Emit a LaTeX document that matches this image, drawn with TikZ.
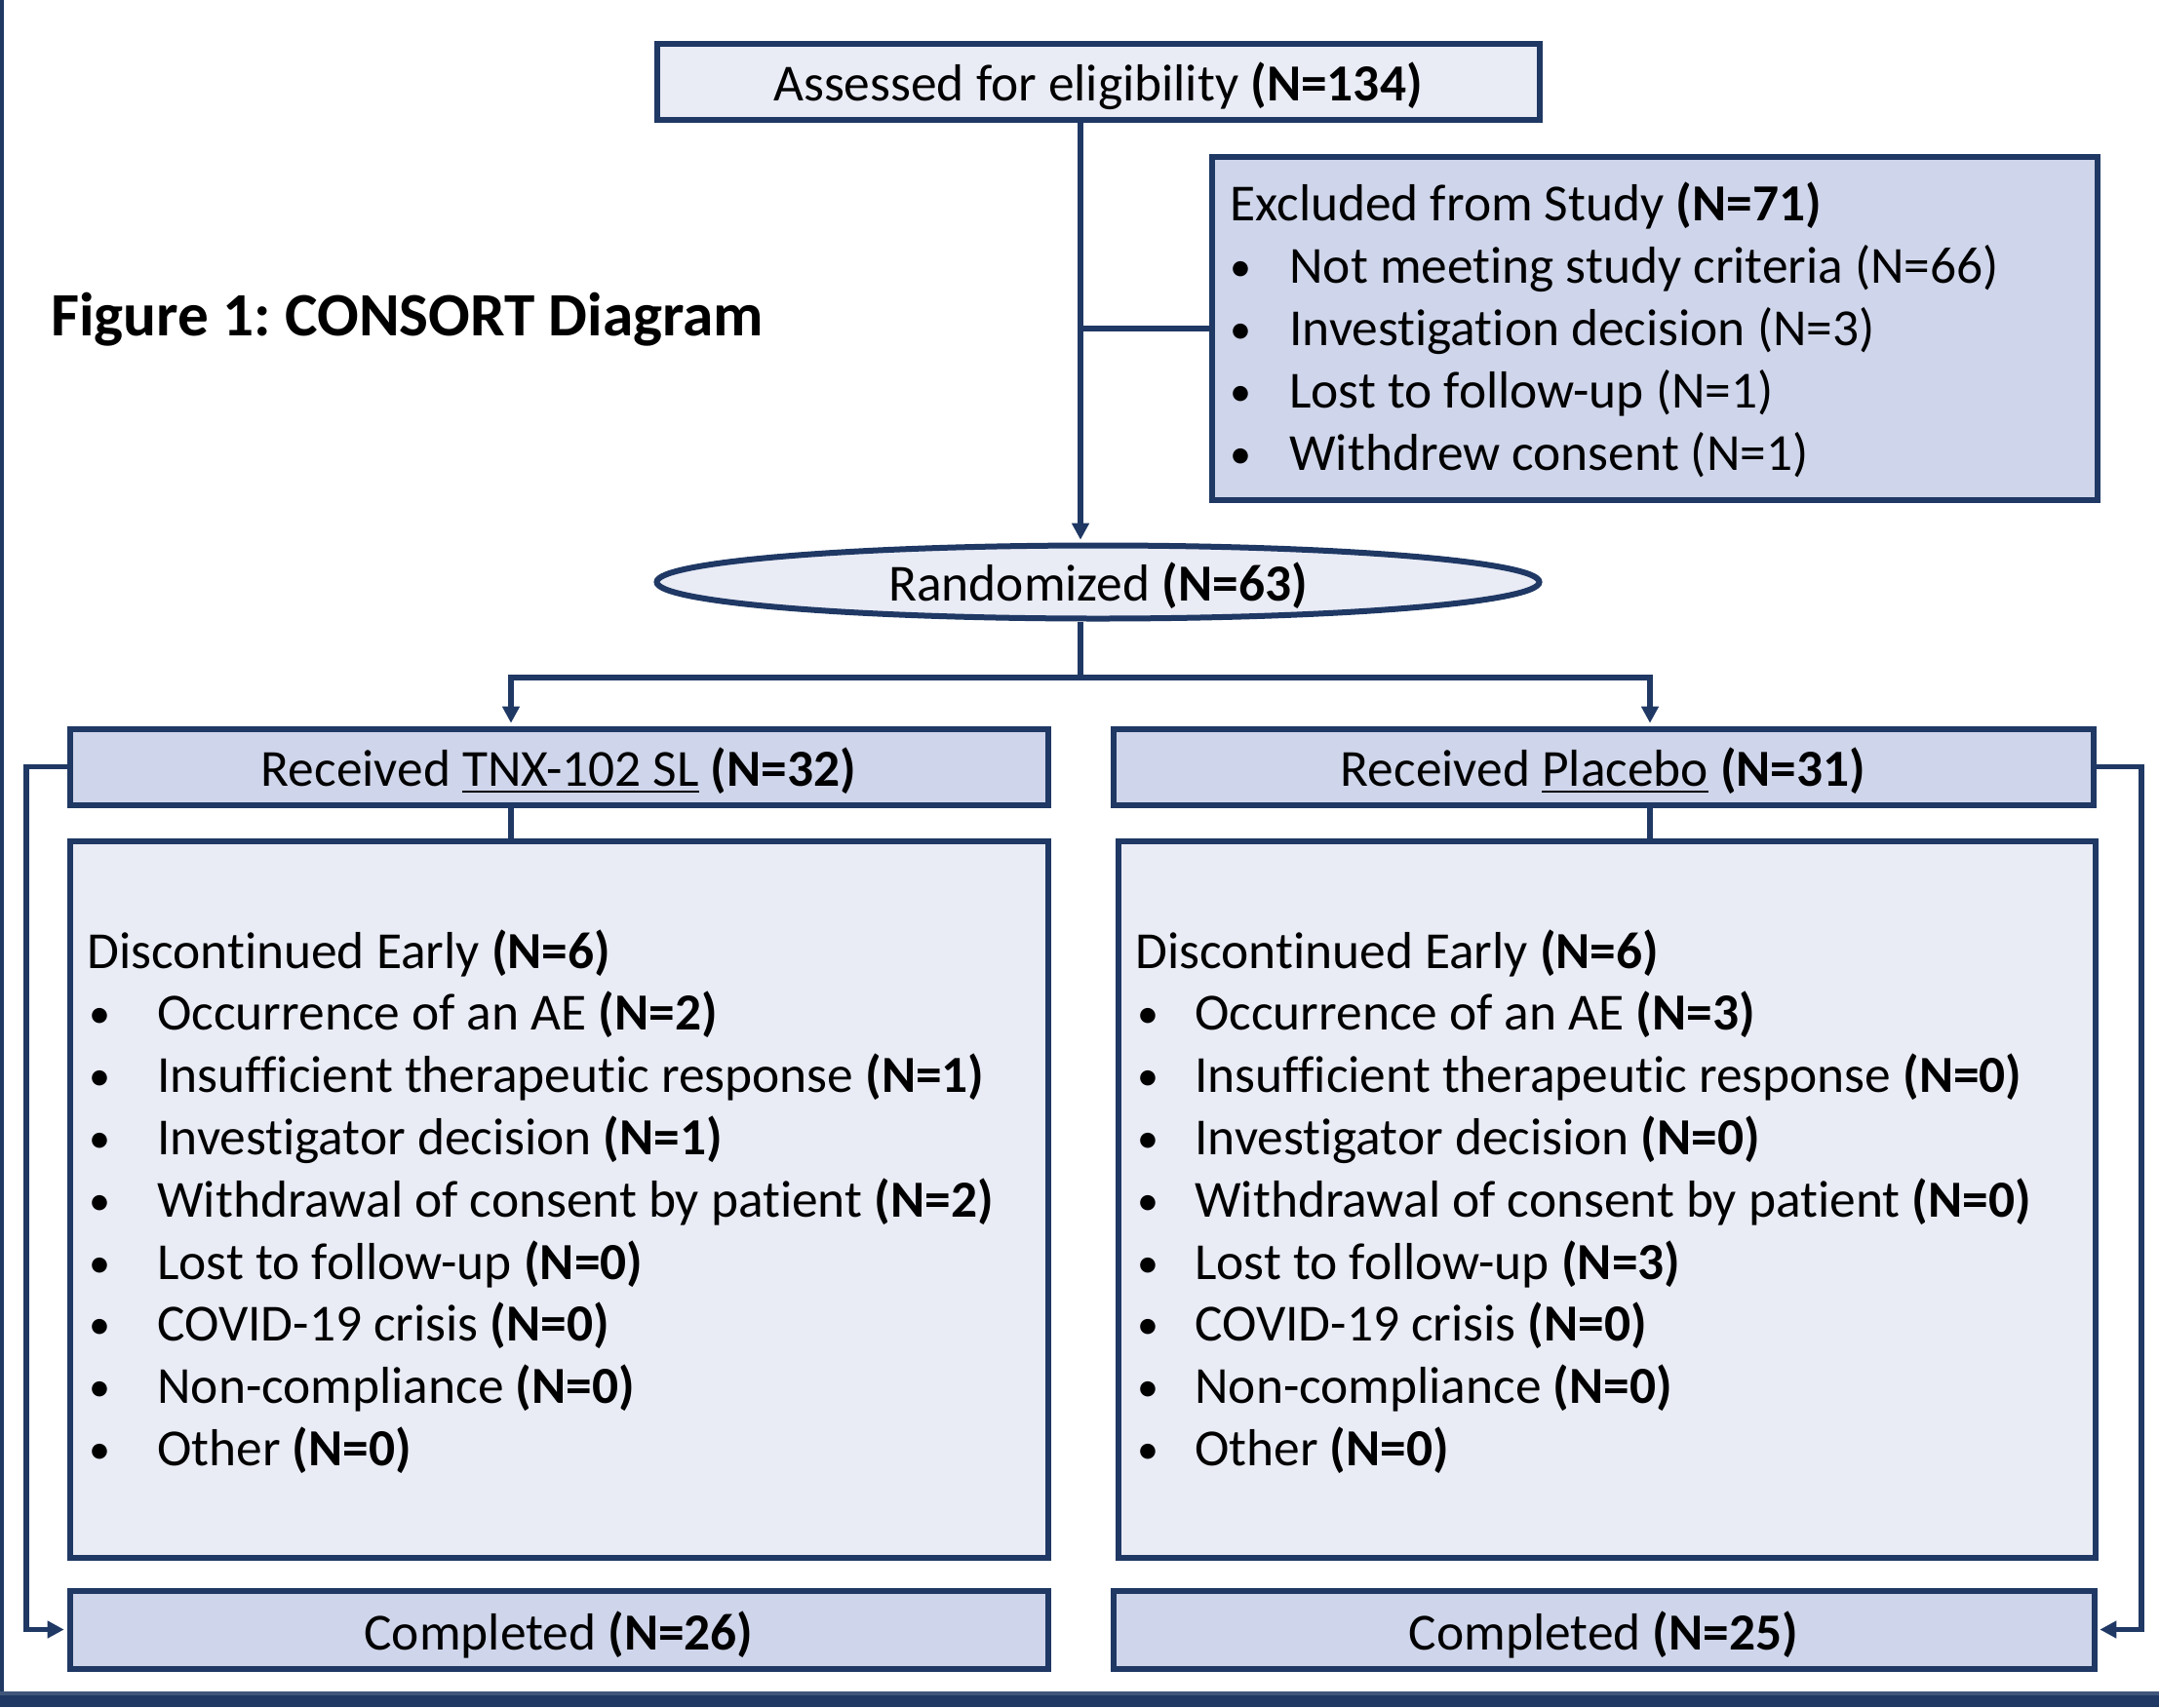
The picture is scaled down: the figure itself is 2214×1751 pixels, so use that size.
\documentclass[tikz,border=0pt]{standalone}
\usepackage{fontspec}
\setmainfont{Carlito}[Ligatures=NoCommon]
\usetikzlibrary{shapes.geometric,arrows.meta}
\definecolor{navy}{HTML}{1F3864}
\definecolor{fillA}{HTML}{E9EBF5}
\definecolor{fillB}{HTML}{CFD5EA}
\frenchspacing
\newcommand\uln[1]{\setbox0\hbox{#1}\rlap{\rule[-3.6pt]{\wd0}{1.2pt}}\box0\relax}
\newcommand\bul{{\fontsize{22pt}{22pt}\selectfont\raisebox{1pt}{•}}}
\begin{document}
\begin{tikzpicture}[x=0.5pt,y=-0.5pt,
  every node/.style={font=\fontsize{26.7pt}{31.9pt}\selectfont, inner sep=0pt},
  box/.style={draw=navy, line width=3pt, rectangle, text height=19.5pt, text depth=0pt},
  conn/.style={draw=navy, line width=2.6pt},
  arr/.style={conn, -{Triangle[width=8.5pt,length=8.5pt]}, shorten >=1.4pt},
  ln/.style={anchor=base west}]
\useasboundingbox (0,0) rectangle (2214,1751);
% frame remnants
\fill[navy] (0,0) rectangle (4,1751);
\fill[navy!85] (0,1735) rectangle (2214,1739);
\fill[navy] (0,1739) rectangle (2214,1751);

% title
\node[ln, font=\fontsize{31.6pt}{37pt}\selectfont\bfseries] (T) at (52,344) {Figure 1: CONSORT Diagram};

% boxes
\node[box, fill=fillA, minimum width=452.5pt, minimum height=39pt] (A) at (1126,83.5) {Assessed for eligibility \textbf{(N=134)}};
\node[box, fill=fillB, minimum width=454pt, minimum height=176pt] (E) at (1696.5,337) {};
\node[box, ellipse, fill=fillA, minimum width=452.5pt, minimum height=37.5pt] (R) at (1126,597) {Randomized \textbf{(N=63)}};
\node[box, fill=fillB, minimum width=501.5pt, minimum height=39pt] (TL) at (573,786.5) {Received \uln{TNX-102 SL} \textbf{(N=32)}};
\node[box, fill=fillB, minimum width=502.5pt, minimum height=39pt] (TR) at (1644,786.5) {Received \uln{Placebo} \textbf{(N=31)}};
\node[box, fill=fillA, minimum width=501.5pt, minimum height=367.5pt] (DL) at (573,1230) {};
\node[box, fill=fillA, minimum width=501pt, minimum height=367.5pt] (DR) at (1647.5,1230) {};
\node[box, fill=fillB, minimum width=501.5pt, minimum height=40pt, text height=21pt] (CL) at (573,1671.5) {Completed \textbf{(N=26)}};
\node[box, fill=fillB, minimum width=503pt, minimum height=40pt, text height=21pt] (CR) at (1644.5,1671.5) {Completed \textbf{(N=25)}};

% excluded list
\node[ln] (Et) at (1261,226) {Excluded from Study \textbf{(N=71)}};
\foreach \t [count=\i] in {{Not meeting study criteria (N=66)},{Investigation decision (N=3)},{Lost to follow-up (N=1)},{Withdrew consent (N=1)}} {
  \node[ln] (Eb\i) at (1261,{226+64*\i}) {\bul};
  \node[ln] (Ei\i) at (1322,{226+64*\i}) {\t};
}

% discontinued lists
\node[ln] (DLt) at (89,993) {Discontinued Early \textbf{(N=6)}};
\foreach \t [count=\i] in {{Occurrence of an AE \textbf{(N=2)}},{Insufficient therapeutic response \textbf{(N=1)}},{Investigator decision \textbf{(N=1)}},{Withdrawal of consent by patient \textbf{(N=2)}},{Lost to follow-up \textbf{(N=0)}},{COVID-19 crisis \textbf{(N=0)}},{Non-compliance \textbf{(N=0)}},{Other \textbf{(N=0)}}} {
  \node[ln] (DLb\i) at (91,{993+63.8*\i}) {\bul};
  \node[ln] (DLi\i) at (161,{993+63.8*\i}) {\t};
}
\node[ln] (DRt) at (1164,993) {Discontinued Early \textbf{(N=6)}};
\foreach \t [count=\i] in {{Occurrence of an AE \textbf{(N=3)}},{Insufficient therapeutic response \textbf{(N=0)}},{Investigator decision \textbf{(N=0)}},{Withdrawal of consent by patient \textbf{(N=0)}},{Lost to follow-up \textbf{(N=3)}},{COVID-19 crisis \textbf{(N=0)}},{Non-compliance \textbf{(N=0)}},{Other \textbf{(N=0)}}} {
  \node[ln] (DRb\i) at (1166,{993+63.8*\i}) {\bul};
  \node[ln] (DRi\i) at (1225,{993+63.8*\i}) {\t};
}

% connectors
\coordinate (vx) at (1108,0);
\coordinate (sp) at (1108,695);
\coordinate (aL) at (524,695);
\coordinate (aR) at (1692,695);
\coordinate (lx) at (27,0);
\coordinate (rx) at (2196,0);
\draw[arr] (A.south -| vx) -- (R.north -| vx);
\draw[conn] (vx |- E.west) -- (E.west);
\draw[conn] (R.south -| vx) -- (sp);
\draw[arr] (sp) -- (aL) -- (aL |- TL.north);
\draw[arr] (sp) -- (aR) -- (aR |- TR.north);
\draw[conn] (TL.south -| aL) -- (DL.north -| aL);
\draw[conn] (TR.south -| aR) -- (DR.north -| aR);
\draw[arr] (TL.west) -- (TL.west -| lx) -- (lx |- CL.west) -- (CL.west);
\draw[arr] (TR.east) -- (TR.east -| rx) -- (rx |- CR.east) -- (CR.east);
\end{tikzpicture}
\end{document}
